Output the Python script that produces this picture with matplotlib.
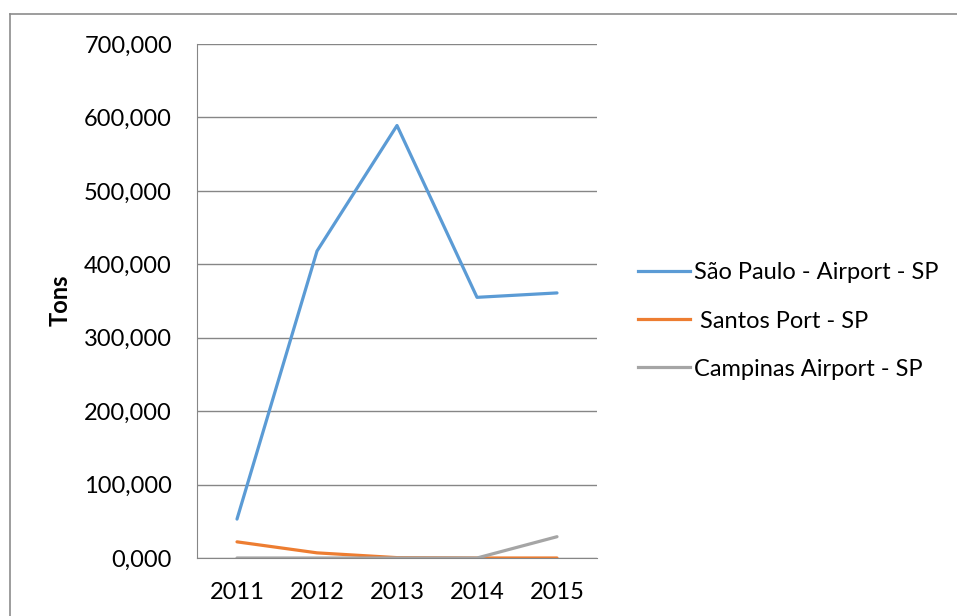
import matplotlib
matplotlib.use("Agg")
import matplotlib.pyplot as plt
from matplotlib.lines import Line2D

years = ["2011", "2012", "2013", "2014", "2015"]
sao_paulo = [53000, 418000, 589000, 355000, 361000]
santos = [22000, 7000, 500, 0, 0]
campinas = [0, 0, 0, 0, 29000]
series_names = ["São Paulo - Airport - SP", " Santos Port - SP", "Campinas Airport - SP"]
y_ticks = [0, 100000, 200000, 300000, 400000, 500000, 600000, 700000]
y_tick_labels = ["0,000", "100,000", "200,000", "300,000", "400,000",
                 "500,000", "600,000", "700,000"]

plt.rcParams["font.family"] = ["Lato", "DejaVu Sans"]
FS = 17

fig = plt.figure(figsize=(9.57, 6.16), dpi=100)
ax = fig.add_axes([197 / 957, 58 / 616, 400 / 957, 514 / 616])

colors = ["#5B9BD5", "#ED7D31", "#A5A5A5"]
x = range(len(years))
for vals, name, c in zip([sao_paulo, santos, campinas], series_names, colors):
    ax.plot(x, vals, color=c, lw=2.3, label=name, solid_capstyle="round")

ax.set_xlim(-0.5, len(years) - 0.5)
ax.set_ylim(0, 700000)
ax.set_xticks(list(x))
ax.set_xticklabels(years, fontsize=FS)
ax.set_yticks(y_ticks)
ax.set_yticklabels(y_tick_labels, fontsize=FS)
ax.tick_params(length=0, pad=18)
ax.tick_params(axis="x", pad=17)
ax.yaxis.grid(True, color="#868686", lw=1)
ax.set_axisbelow(True)
for s in ["top", "right"]:
    ax.spines[s].set_visible(False)
ax.spines["left"].set_color("#868686")
ax.spines["bottom"].set_color("#868686")

fig.text(60 / 957, 1 - 300 / 616, "Tons", rotation=90, fontsize=FS,
         fontweight="bold", ha="center", va="center")

handles = [Line2D([0], [0], color=c, lw=2.3) for c in colors]
fig.legend(handles, series_names, loc="center left",
           bbox_to_anchor=(633 / 957, 1 - 321 / 616), frameon=False,
           fontsize=FS, handlelength=2.2, handletextpad=0.2, labelspacing=1.15,
           borderpad=0.2, borderaxespad=0)

# outer chart border (top and left visible in the crop)
fig.add_artist(Line2D([10 / 957, 1], [1 - 14 / 616, 1 - 14 / 616],
                      transform=fig.transFigure, color="#8c8c8c", lw=1.2))
fig.add_artist(Line2D([10 / 957, 10 / 957], [0, 1 - 14 / 616],
                      transform=fig.transFigure, color="#8c8c8c", lw=1.2))

fig.savefig("out.png", dpi=100)
